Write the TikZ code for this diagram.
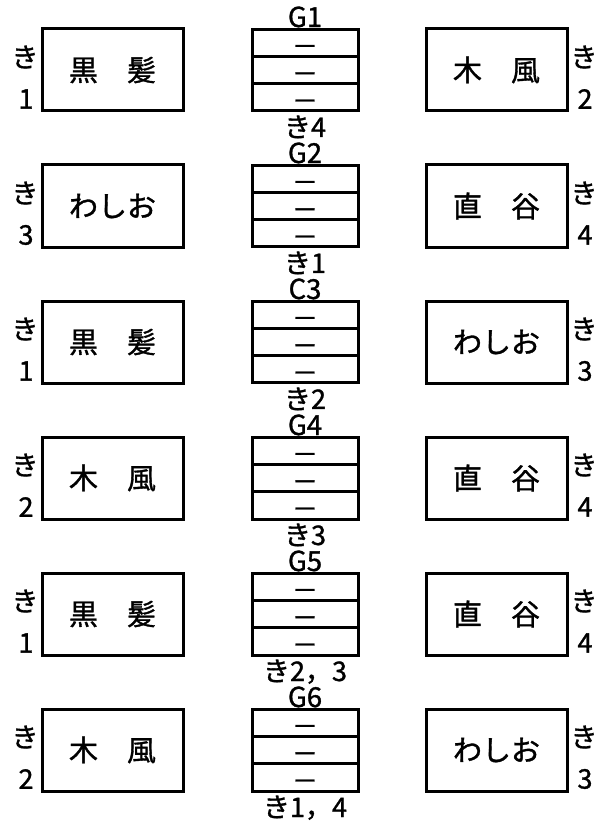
\documentclass[tikz,border=0pt]{standalone}
\usepackage{fontspec}
\setmainfont{Noto Sans CJK JP}[FakeBold=1.2]
\usetikzlibrary{positioning}

\begin{document}
\begin{tikzpicture}[x=1pt, y=-1pt,
      line width=3pt,
      player/.style={draw, minimum width=141pt, minimum height=82pt, inner sep=0pt, outer sep=0pt, font=\fontsize{29}{29}\selectfont},
      slot/.style={draw, minimum width=106pt, minimum height=27.33pt, inner sep=0pt, outer sep=0pt, text height=26pt, text depth=-4pt, font=\fontsize{26}{26}\selectfont},
      tag/.style={inner sep=0pt, text height=20.5pt, text depth=0.5pt, font=\fontsize{27.5}{27.5}\selectfont},
      seat/.style={inner sep=0pt, text height=23pt, text depth=1pt, font=\fontsize{27}{27}\selectfont},
      side/.style={inner sep=0pt, font=\fontsize{27}{27}\selectfont},]
      \useasboundingbox (0,0) rectangle (610,821);
      \foreach \i/\lname/\lnum/\g/\k/\rname/\rnum
        [evaluate=\i as \y using 70+136*(\i-1)] in {
          1/黒　髪/1/G1/き4/木　風/2,
          2/わしお/3/G2/き1/直　谷/4,
          3/黒　髪/1/C3/き2/わしお/3,
          4/木　風/2/G4/き3/直　谷/4,
          5/黒　髪/1/G5/き2，3/直　谷/4,
          6/木　風/2/G6/き1，4/わしお/3} {
        % left player
        \node[player] (l\i) at (112.5,\y) {\lname};
        \node[side] (lk\i) at (25,\y-13) {き};
        \node[side] (ln\i) at (26,\y+29) {\lnum};
        % game card
        \node[slot] (ma\i) at (305,\y-27.33) {－};
        \node[slot, below=0pt of ma\i] (mb\i) {－};
        \node[slot, below=0pt of mb\i] (mc\i) {－};
        \node[tag, above=0pt of ma\i] (g\i) {\g};
        \node[seat, below=1.5pt of mc\i] (k\i) {\k};
        % right player
        \node[player] (r\i) at (496.5,\y) {\rname};
        \node[side] (rk\i) at (584,\y-13) {き};
        \node[side] (rn\i) at (585,\y+29) {\rnum};
      }
    \end{tikzpicture}
\end{document}
